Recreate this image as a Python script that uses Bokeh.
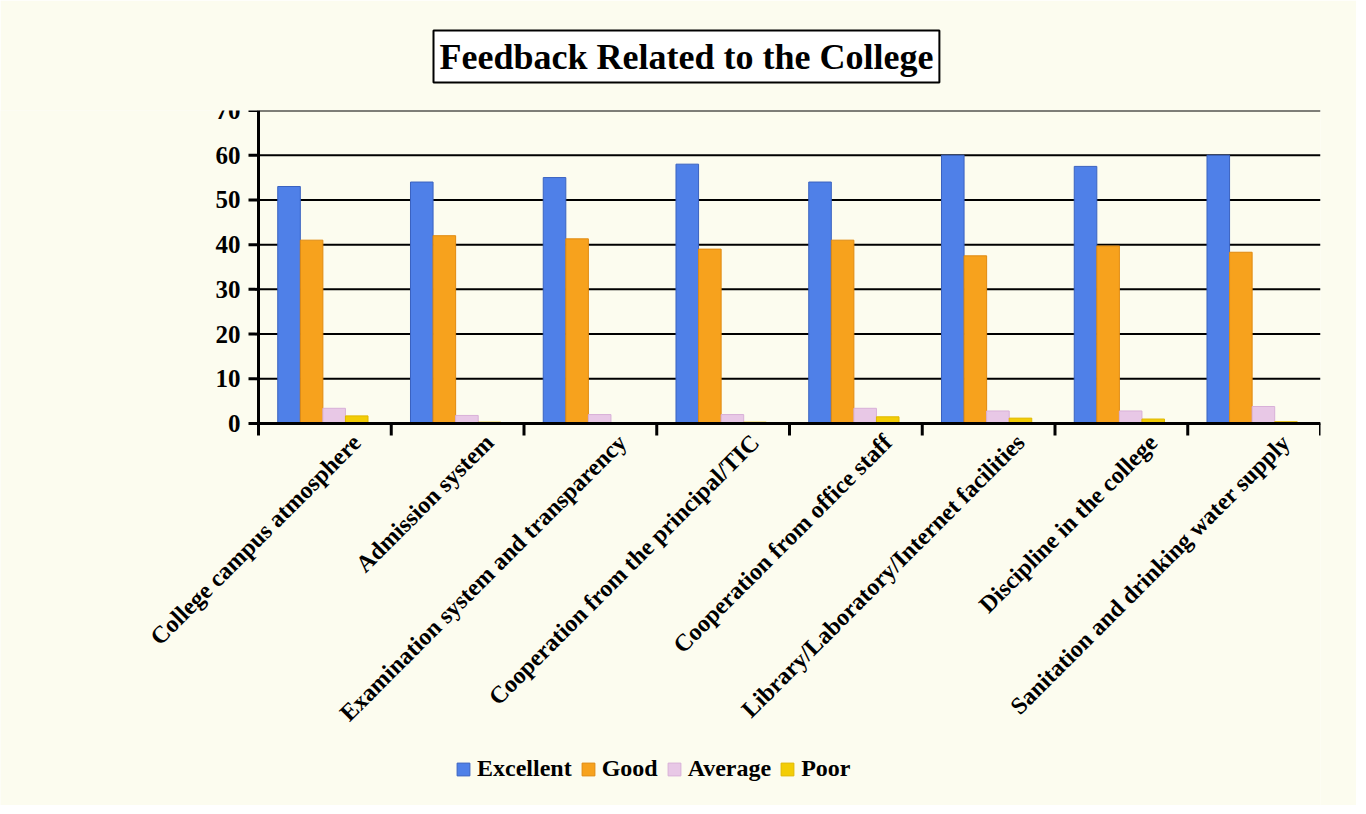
import math
from bokeh.plotting import figure
from bokeh.models import Range1d, Legend, LegendItem, Title, ColumnDataSource
from bokeh.transform import dodge
from bokeh.core.properties import value
from bokeh.embed import file_html
from bokeh.resources import INLINE

categories = [
    "College campus atmosphere",
    "Admission system",
    "Examination system and transparency",
    "Cooperation from the principal/TIC",
    "Cooperation from office staff",
    "Library/Laboratory/Internet facilities",
    "Discipline in the college",
    "Sanitation and drinking water supply",
]
excellent = [53, 54, 55, 58, 54, 60, 57.5, 60]
good = [41, 42, 41.3, 39, 41, 37.5, 39.7, 38.3]
average = [3.4, 1.8, 2.0, 2.0, 3.4, 2.8, 2.8, 3.8]
poor = [1.7, 0.3, 0.1, 0.3, 1.5, 1.2, 1.0, 0.4]
series_names = ["Excellent", "Good", "Average", "Poor"]
y_ticks = [0, 10, 20, 30, 40, 50, 60, 70]
y_tick_labels = [str(t) for t in y_ticks]

FONT = "Liberation Serif"
n = len(categories)
Y_MAX = y_ticks[-1]

# layout constants (pixels)
PLOT_W = 1062          # width of the category band
LEFT_PX = 258          # space left of the value axis
PLOT_PX = 313          # height of the 0..70 band
FRAME_PX = 695         # frame height incl. label + legend area below the bars
PXX = PLOT_W / n
PXY = PLOT_PX / Y_MAX
Y_MIN = -(FRAME_PX - PLOT_PX) / PXY
X_MIN = -LEFT_PX / PXX

centers = [i + 0.5 for i in range(n)]
bounds = list(range(n + 1))
label_pos = [c + 0.24 for c in centers]

src = ColumnDataSource(dict(x=centers, cat=categories, excellent=excellent, good=good,
                            average=average, poor=poor))
lab_src = ColumnDataSource(dict(x=label_pos, y=[-15 / PXY] * n, text=categories))
ytl_src = ColumnDataSource(dict(x=[-18 / PXX] * len(y_ticks), y=y_ticks, text=y_tick_labels))

p = figure(x_range=Range1d(X_MIN, n), y_range=Range1d(Y_MIN, Y_MAX),
           frame_width=LEFT_PX + PLOT_W, frame_height=FRAME_PX,
           x_axis_location=None, y_axis_location=None,
           min_border_left=0, min_border_right=36, min_border_top=105, min_border_bottom=0,
           output_backend="svg", toolbar_location=None)
p.border_fill_color = "#fcfcef"
p.background_fill_color = "#fcfcef"
p.outline_line_color = None
p.grid.visible = False

title = Title(text="Feedback Related to the College", align="left", offset=433,
              text_font=FONT, text_font_style="bold", text_font_size="36px",
              text_color="black", standoff=56, vertical_align="bottom",
              border_line_color="black", border_line_width=2,
              background_fill_color="white", padding=6)
p.add_layout(title, "above")

# horizontal grid lines at the value ticks
p.segment(x0=[0] * len(y_ticks), y0=y_ticks, x1=[n] * len(y_ticks), y1=y_ticks,
          line_color="black", line_width=2)

# bars
colors = ["#4f80e8", "#f7a21d", "#e8c8e6", "#f3cd05"]
lines = ["#3a62c0", "#e08a10", "#d8b0d8", "#e0b800"]
offsets = [-0.27, -0.1, 0.07, 0.24]
fields = ["excellent", "good", "average", "poor"]
renderers = []
for f, c, lc, off in zip(fields, colors, lines, offsets):
    r = p.vbar(x=dodge("x", off), top=f, width=0.17, bottom=0,
               source=src, fill_color=c, line_color=lc, line_width=1)
    renderers.append(r)

# value axis: line, ticks, labels
p.segment(x0=[0], y0=[y_ticks[0]], x1=[0], y1=[Y_MAX], line_color="black", line_width=3)
p.segment(x0=[-10 / PXX] * len(y_ticks), y0=y_ticks, x1=[0] * len(y_ticks), y1=y_ticks,
          line_color="black", line_width=3)
p.text(x="x", y="y", text="text", source=ytl_src, text_align="right", text_baseline="middle",
       text_font=value(FONT), text_font_style="bold", text_font_size="25px",
       text_color="black")

# category axis: line at zero with boundary ticks
p.segment(x0=[0], y0=[0], x1=[n], y1=[0], line_color="black", line_width=3)
tick_len = 12 / PXY
p.segment(x0=bounds, y0=[0] * len(bounds), x1=bounds, y1=[-tick_len] * len(bounds),
          line_color="black", line_width=3)

# rotated category labels
p.text(x="x", y="y", text="text", source=lab_src, angle=math.pi / 4,
       text_align="right", text_baseline="middle",
       text_font=value(FONT), text_font_style="bold", text_font_size="24px",
       text_color="black")

legend = Legend(items=[LegendItem(label=s, renderers=[r]) for s, r in zip(series_names, renderers)],
                orientation="horizontal", location=(455, 23),
                background_fill_alpha=0, border_line_color=None,
                label_text_font=FONT, label_text_font_style="bold", label_text_font_size="24px",
                label_text_color="black", glyph_width=16, glyph_height=16, spacing=8,
                label_standoff=6, padding=0, margin=0)
p.add_layout(legend)

open("out.html", "w").write(file_html(p, INLINE))
